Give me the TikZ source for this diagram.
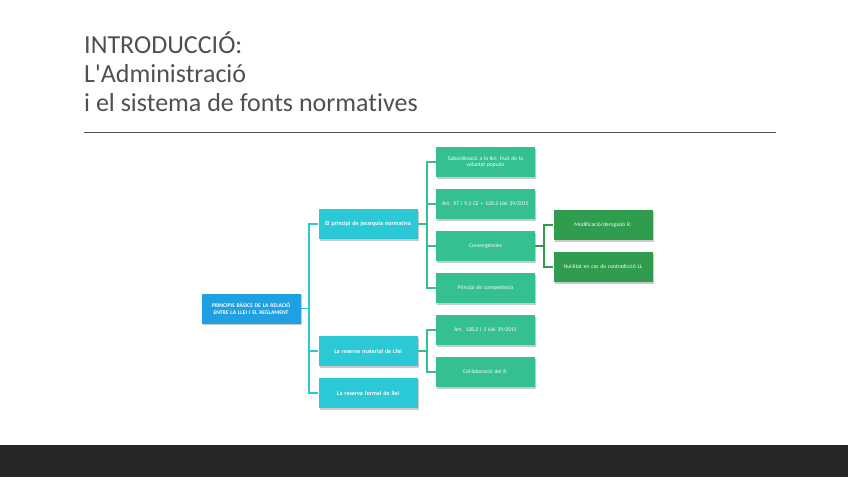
\documentclass[tikz,border=0pt]{standalone}
\usepackage{fontspec}
\setmainfont{Carlito}[Ligatures=NoCommon]
\usetikzlibrary{shadows}
\definecolor{titlegray}{RGB}{80,80,80}
\definecolor{rootblue}{RGB}{31,160,226}
\definecolor{lvlcyan}{RGB}{43,200,214}
\definecolor{lvlgreen}{RGB}{52,192,143}
\definecolor{lvldark}{RGB}{47,156,78}
\definecolor{barblack}{RGB}{38,38,38}
\begin{document}
\begin{tikzpicture}[x=1pt, y=-1pt,
    box/.style={rectangle, minimum width=99pt, minimum height=30pt, inner sep=2pt, align=center,
        text=white, font=\fontsize{5.6}{6.8}\selectfont, text width=94pt,
        drop shadow={shadow xshift=1pt, shadow yshift=-1.5pt, opacity=0.35, fill=black!60}},
    title/.style={anchor=base west, inner sep=0pt, text=titlegray, font=\fontsize{26}{29}\selectfont},
    conn/.style={line width=1.2pt}]
    \useasboundingbox (0,0) rectangle (848,477);
    \fill[barblack] (0,445) rectangle (848,477);
    % title
    \node[title] (title1) at (84,53) {INTRODUCCIÓ:};
    \node[title] (title2) at (84,82) {L\textquotesingle Administració};
    \node[title] (title3) at (84,111) {i el sistema de fonts normatives};
    \draw[titlegray, line width=1pt] (84,132) -- (776,132);
    % root and first level
    \node[box, fill=rootblue, font=\bfseries\fontsize{5.6}{6.6}\selectfont] (root) at (251,308.5)
        {PRINCIPIS BÀSICS DE LA RELACIÓ\\ENTRE LA LLEI I EL REGLAMENT};
    \node[box, fill=lvlcyan, font=\bfseries\fontsize{6}{7}\selectfont] (jer) at (368,224) {El principi de jerarquia normativa};
    \node[box, fill=lvlcyan, font=\bfseries\fontsize{6}{7}\selectfont] (mat) at (368,351) {La reserva material de Llei};
    \node[box, fill=lvlcyan, font=\bfseries\fontsize{6}{7}\selectfont] (form) at (368,393) {La reserva formal de llei};
    % second level
    \node[box, fill=lvlgreen] (sub) at (485.5,162) {Subordinació a la llei, fruit de la\\voluntat popular};
    \node[box, fill=lvlgreen] (art) at (485.5,204) {Art. 97 i 9.3 CE + 128.2 Llei 39/2015};
    \node[box, fill=lvlgreen] (conv) at (485.5,246) {Convergències};
    \node[box, fill=lvlgreen] (comp) at (485.5,288) {Principi de competència};
    \node[box, fill=lvlgreen] (artb) at (485.5,330) {Art. 128.2 i 3 Llei 39/2015};
    \node[box, fill=lvlgreen] (col) at (485.5,372) {Col·laboració del R.};
    % third level
    \node[box, fill=lvldark] (mod) at (603,225) {Modificació/derogació R.};
    \node[box, fill=lvldark] (nul) at (603,267) {Nul·litat en cas de contradicció LL};
    % connectors
    \coordinate (t1) at (309,308.5);
    \coordinate (t2) at (427,224);
    \coordinate (t3) at (427,351);
    \coordinate (t4) at (544,246);
    \draw[conn, lvlcyan] (root) -- (t1) |- (jer);
    \draw[conn, lvlcyan] (t1) |- (mat);
    \draw[conn, lvlcyan] (t1) |- (form);
    \foreach \n in {sub, art, conv, comp}
        \draw[conn, lvlgreen] (jer) -- (t2) |- (\n);
    \foreach \n in {artb, col}
        \draw[conn, lvlgreen] (mat) -- (t3) |- (\n);
    \foreach \n in {mod, nul}
        \draw[conn, lvldark] (conv) -- (t4) |- (\n);
\end{tikzpicture}
\end{document}
